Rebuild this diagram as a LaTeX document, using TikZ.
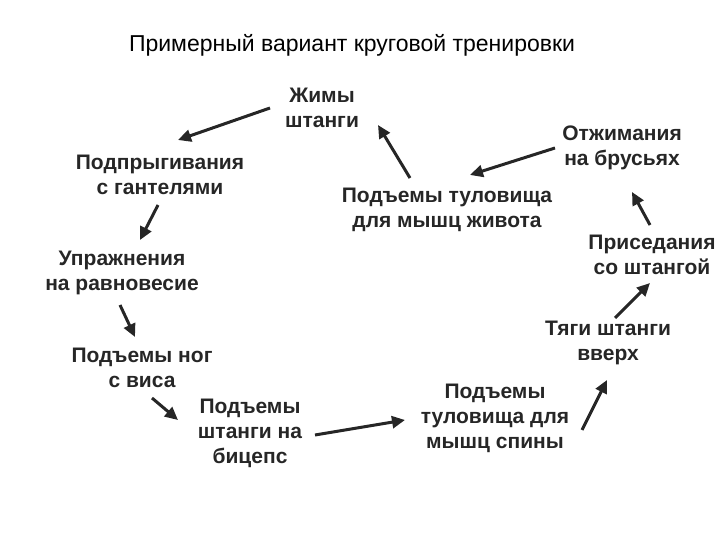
\documentclass[tikz,border=0pt]{standalone}
\usepackage{fontspec}
\setmainfont{Liberation Sans}
\usetikzlibrary{arrows.meta}
\definecolor{ink}{HTML}{262626}
\begin{document}
\begin{tikzpicture}[x=1pt,y=-1pt,
  lab/.style={font=\bfseries\fontsize{21}{25}\selectfont, text=ink, align=center, inner sep=2pt},
  arr/.style={-{Triangle[length=13pt,width=12pt]}, line width=3pt, draw=ink}]
\useasboundingbox (0,0) rectangle (720,540);
\node[font=\fontsize{23}{27}\selectfont] (title) at (352,45) {Примерный вариант круговой тренировки};
\node[lab] (zh) at (322,108) {Жимы\\штанги};
\node[lab] (pg) at (160,175) {Подпрыгивания\\с гантелями};
\node[lab] (ur) at (122,273) {Упражнения\\на равновесие};
\node[lab] (pn) at (142,368) {Подъемы ног\\с виса};
\node[lab] (pb) at (250,433) {Подъемы\\штанги на\\бицепс};
\node[lab] (ps) at (495,418) {Подъемы\\туловища для\\мышц спины};
\node[lab] (tg) at (608,343) {Тяги штанги\\вверх};
\node[lab] (pr) at (652,255) {Приседания\\со штангой};
\node[lab] (ot) at (622,148) {Отжимания\\на брусьях};
\node[lab] (pz) at (447,210) {Подъемы туловища\\для мышц живота};
\coordinate (a1) at (270,108); \coordinate (b1) at (178,140);
\coordinate (a2) at (158,205); \coordinate (b2) at (140,240);
\coordinate (a3) at (120,305); \coordinate (b3) at (135,337);
\coordinate (a4) at (152,398); \coordinate (b4) at (178,420);
\coordinate (a5) at (315,435); \coordinate (b5) at (405,420);
\coordinate (a6) at (582,430); \coordinate (b6) at (607,380);
\coordinate (a7) at (615,318); \coordinate (b7) at (650,283);
\coordinate (a8) at (650,225); \coordinate (b8) at (632,192);
\coordinate (a9) at (555,148); \coordinate (b9) at (470,175);
\coordinate (a10) at (410,178); \coordinate (b10) at (378,125);
\foreach \i in {1,...,10} \draw[arr] (a\i) -- (b\i);
\end{tikzpicture}
\end{document}
